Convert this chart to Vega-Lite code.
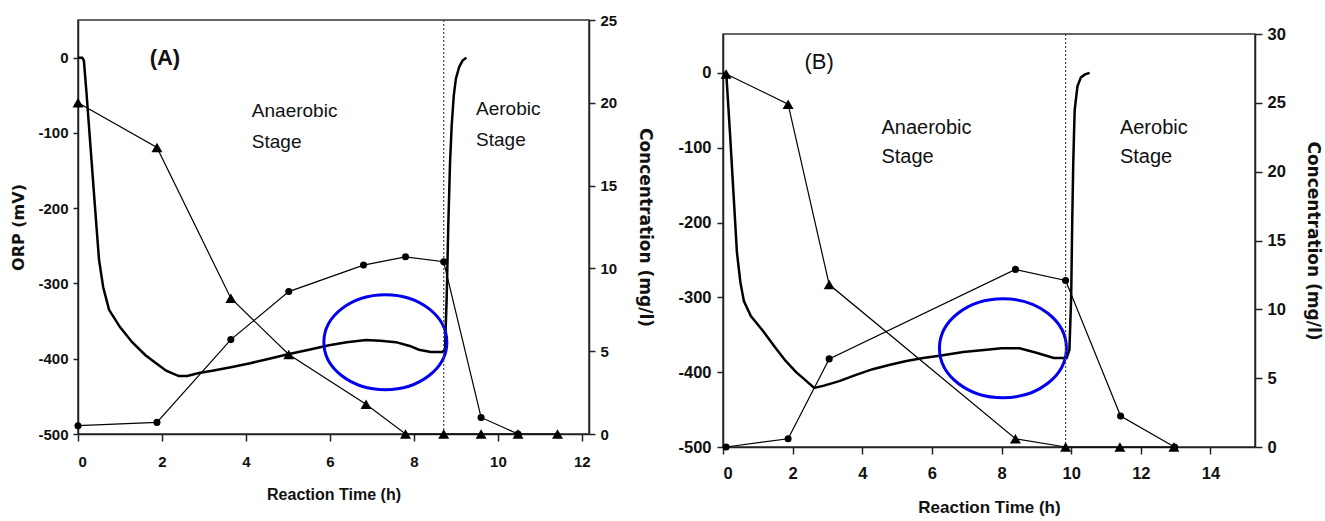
{
  "$schema": "https://vega.github.io/schema/vega-lite/v6.json",
  "padding": {"left": 10, "top": 12, "right": 0, "bottom": 0},
  "spacing": 22,
  "config": {
    "font": "Liberation Sans",
    "view": {"stroke": "#333", "strokeWidth": 1.5},
    "axis": {
      "grid": false,
      "labelFont": "Liberation Sans", "labelFontWeight": "bold", "labelFontSize": 15, "labelColor": "#111",
      "titleFont": "Liberation Sans", "titleFontWeight": "bold", "titleFontSize": 16, "titleColor": "#111",
      "domainColor": "#222", "domainWidth": 1.5, "tickColor": "#222", "tickWidth": 1.5
    }
  },
  "datasets": {
    "orpA": [
      {"t": 0, "orp": 0}, {"t": 0.1, "orp": 0}, {"t": 0.14, "orp": -4}, {"t": 0.2, "orp": -45}, {"t": 0.3, "orp": -120},
      {"t": 0.4, "orp": -195}, {"t": 0.5, "orp": -268}, {"t": 0.6, "orp": -305}, {"t": 0.74, "orp": -335}, {"t": 1.0, "orp": -358},
      {"t": 1.29, "orp": -378}, {"t": 1.6, "orp": -395}, {"t": 1.86, "orp": -406}, {"t": 2.1, "orp": -416}, {"t": 2.4, "orp": -423},
      {"t": 2.6, "orp": -423}, {"t": 2.88, "orp": -419}, {"t": 3.2, "orp": -416}, {"t": 3.67, "orp": -411}, {"t": 4.1, "orp": -406},
      {"t": 4.48, "orp": -401}, {"t": 5.0, "orp": -394}, {"t": 5.5, "orp": -388}, {"t": 5.98, "orp": -382}, {"t": 6.4, "orp": -378},
      {"t": 6.86, "orp": -375}, {"t": 7.2, "orp": -376}, {"t": 7.57, "orp": -378}, {"t": 7.9, "orp": -383}, {"t": 8.12, "orp": -388},
      {"t": 8.4, "orp": -391}, {"t": 8.67, "orp": -391}, {"t": 8.74, "orp": -388}, {"t": 8.78, "orp": -320}, {"t": 8.82, "orp": -220},
      {"t": 8.86, "orp": -140}, {"t": 8.9, "orp": -90}, {"t": 8.95, "orp": -50}, {"t": 9.0, "orp": -28}, {"t": 9.08, "orp": -12},
      {"t": 9.16, "orp": -4}, {"t": 9.25, "orp": 0}
    ],
    "concA": [
      {"t": 0, "c": 20.0, "s": "tri"}, {"t": 1.88, "c": 17.3, "s": "tri"}, {"t": 3.64, "c": 8.2, "s": "tri"}, {"t": 5.02, "c": 4.8, "s": "tri"},
      {"t": 6.86, "c": 1.8, "s": "tri"}, {"t": 7.8, "c": 0, "s": "tri"}, {"t": 8.71, "c": 0, "s": "tri"}, {"t": 9.6, "c": 0, "s": "tri"},
      {"t": 10.48, "c": 0, "s": "tri"}, {"t": 11.42, "c": 0, "s": "tri"},
      {"t": 0, "c": 0.5, "s": "circ"}, {"t": 1.88, "c": 0.7, "s": "circ"}, {"t": 3.64, "c": 5.7, "s": "circ"}, {"t": 5.02, "c": 8.6, "s": "circ"},
      {"t": 6.8, "c": 10.2, "s": "circ"}, {"t": 7.8, "c": 10.7, "s": "circ"}, {"t": 8.71, "c": 10.4, "s": "circ"}, {"t": 9.6, "c": 1.0, "s": "circ"},
      {"t": 10.48, "c": 0, "s": "circ"}
    ],
    "ruleA": [{"t": 8.71}],
    "ellA": [{"t": 7.32, "orp": -378}],
    "lblA": [{"t": 2.07, "orp": 0, "label": "(A)"}],
    "stA": [
      {"t": 4.14, "orp": -78.5, "label": "Anaerobic"}, {"t": 4.14, "orp": -120, "label": "Stage"},
      {"t": 9.48, "orp": -76, "label": "Aerobic"}, {"t": 9.48, "orp": -118, "label": "Stage"}
    ],
    "orpB": [
      {"t": 0, "orp": 0}, {"t": 0.06, "orp": 0}, {"t": 0.1, "orp": -5}, {"t": 0.2, "orp": -80}, {"t": 0.3, "orp": -160},
      {"t": 0.4, "orp": -240}, {"t": 0.5, "orp": -280}, {"t": 0.6, "orp": -305}, {"t": 0.8, "orp": -325}, {"t": 1.15, "orp": -345},
      {"t": 1.5, "orp": -367}, {"t": 1.8, "orp": -385}, {"t": 2.1, "orp": -400}, {"t": 2.3, "orp": -408}, {"t": 2.62, "orp": -421},
      {"t": 2.9, "orp": -418}, {"t": 3.34, "orp": -412}, {"t": 3.8, "orp": -404}, {"t": 4.3, "orp": -396}, {"t": 4.8, "orp": -390},
      {"t": 5.27, "orp": -385}, {"t": 5.75, "orp": -381}, {"t": 6.22, "orp": -378}, {"t": 6.9, "orp": -373}, {"t": 7.57, "orp": -370},
      {"t": 8.0, "orp": -368}, {"t": 8.52, "orp": -368}, {"t": 9.0, "orp": -374}, {"t": 9.5, "orp": -381}, {"t": 9.87, "orp": -381},
      {"t": 9.95, "orp": -370}, {"t": 10.0, "orp": -300}, {"t": 10.03, "orp": -200}, {"t": 10.06, "orp": -120}, {"t": 10.1, "orp": -50},
      {"t": 10.18, "orp": -18}, {"t": 10.28, "orp": -6}, {"t": 10.4, "orp": -2}, {"t": 10.53, "orp": 0}
    ],
    "concB": [
      {"t": 0.09, "c": 27.1, "s": "tri"}, {"t": 1.87, "c": 24.9, "s": "tri"}, {"t": 3.05, "c": 11.8, "s": "tri"}, {"t": 8.4, "c": 0.6, "s": "tri"},
      {"t": 9.84, "c": 0, "s": "tri"}, {"t": 11.4, "c": 0, "s": "tri"}, {"t": 12.95, "c": 0, "s": "tri"},
      {"t": 0.09, "c": 0, "s": "circ"}, {"t": 1.87, "c": 0.6, "s": "circ"}, {"t": 3.05, "c": 6.4, "s": "circ"}, {"t": 8.4, "c": 12.9, "s": "circ"},
      {"t": 9.84, "c": 12.1, "s": "circ"}, {"t": 11.42, "c": 2.25, "s": "circ"}, {"t": 12.97, "c": 0, "s": "circ"}
    ],
    "ruleB": [{"t": 9.84}],
    "ellB": [{"t": 8.04, "orp": -368}],
    "lblB": [{"t": 2.76, "orp": 15, "label": "(B)"}],
    "stB": [
      {"t": 4.55, "orp": -81.5, "label": "Anaerobic"}, {"t": 4.55, "orp": -120, "label": "Stage"},
      {"t": 11.4, "orp": -81.5, "label": "Aerobic"}, {"t": 11.4, "orp": -120, "label": "Stage"}
    ],
    "spacer": [{"t": 0}]
  },
  "hconcat": [
    {
      "width": 511,
      "height": 414,
      "encoding": {
        "x": {"field": "t", "type": "quantitative",
          "scale": {"domain": [0, 12.17], "nice": false, "zero": false},
          "axis": {"title": "Reaction Time (h)", "values": [0, 2, 4, 6, 8, 10, 12], "tickSize": 7, "labelPadding": 13, "titlePadding": 17}}
      },
      "layer": [
        {
          "encoding": {
            "y": {"field": "orp", "type": "quantitative", "scale": {"domain": [-500, 50], "nice": false, "zero": false},
              "axis": {"title": "ORP (mV)", "titleFont": "DejaVu Sans", "titleFontSize": 16, "values": [-500, -400, -300, -200, -100, 0], "labelExpr": "'' + datum.value", "tickSize": 5, "labelPadding": 5, "titlePadding": 11}}
          },
          "layer": [
            {"data": {"name": "orpA"}, "mark": {"type": "line", "color": "black", "strokeWidth": 2.5}},
            {"data": {"name": "ellA"}, "mark": {"type": "point", "shape": "M-1,0A1,0.772,0,1,0,1,0A1,0.772,0,1,0,-1,0Z", "size": 15129, "filled": false, "stroke": "#0000ee", "strokeWidth": 3, "opacity": 1}},
            {"data": {"name": "lblA"}, "mark": {"type": "text", "fontSize": 22, "fontWeight": "bold", "align": "center", "baseline": "middle", "color": "#111"},
              "encoding": {"text": {"field": "label"}}},
            {"data": {"name": "stA"}, "mark": {"type": "text", "fontSize": 19, "align": "left", "baseline": "alphabetic", "color": "#111"},
              "encoding": {"text": {"field": "label"}}}
          ]
        },
        {"data": {"name": "ruleA"}, "mark": {"type": "rule", "color": "#444", "strokeDash": [2, 2], "strokeWidth": 1.2}, "encoding": {}},
        {
          "data": {"name": "concA"},
          "encoding": {
            "y": {"field": "c", "type": "quantitative", "scale": {"domain": [0, 25], "nice": false, "zero": false},
              "axis": {"orient": "right", "title": "Concentration (mg/l)", "titleFont": "DejaVu Sans", "titleFontSize": 17, "titleFontWeight": "bold", "values": [0, 5, 10, 15, 20, 25], "tickSize": 6, "labelPadding": 5, "titlePadding": 19}}
          },
          "layer": [
            {"mark": {"type": "line", "color": "black", "strokeWidth": 1.2}, "encoding": {"detail": {"field": "s"}}},
            {"mark": {"type": "point", "filled": true, "color": "black", "opacity": 1},
              "encoding": {
                "shape": {"field": "s", "type": "nominal", "scale": {"domain": ["tri", "circ"], "range": ["triangle-up", "circle"]}, "legend": null},
                "size": {"field": "s", "type": "ordinal", "scale": {"domain": ["tri", "circ"], "range": [121, 50]}, "legend": null}}}
          ]
        }
      ],
      "resolve": {"scale": {"y": "independent"}}
    },
    {
      "spacing": 0,
      "vconcat": [
        {
          "width": 532, "height": 5,
          "view": {"stroke": null},
          "data": {"name": "spacer"},
          "mark": {"type": "point", "opacity": 0, "size": 0},
          "encoding": {"x": {"field": "t", "type": "quantitative", "axis": null}}
        },
        {
          "width": 532,
          "height": 413,
          "encoding": {
            "x": {"field": "t", "type": "quantitative",
              "scale": {"domain": [0, 15.28], "nice": false, "zero": false},
              "axis": {"title": "Reaction Time (h)", "titleFontSize": 17, "labelFontSize": 16.5, "values": [0, 2, 4, 6, 8, 10, 12, 14], "tickSize": 7, "labelPadding": 11, "titlePadding": 18}}
          },
          "layer": [
            {
              "encoding": {
                "y": {"field": "orp", "type": "quantitative", "scale": {"domain": [-500, 52], "nice": false, "zero": false},
                  "axis": {"title": null, "labelFontSize": 16.5, "values": [-500, -400, -300, -200, -100, 0], "labelExpr": "'' + datum.value", "tickSize": 6, "labelPadding": 6}}
              },
              "layer": [
                {"data": {"name": "orpB"}, "mark": {"type": "line", "color": "black", "strokeWidth": 2.5}},
                {"data": {"name": "ellB"}, "mark": {"type": "point", "shape": "M-1,0A1,0.78,0,1,0,1,0A1,0.78,0,1,0,-1,0Z", "size": 16129, "filled": false, "stroke": "#0000ee", "strokeWidth": 3, "opacity": 1}},
                {"data": {"name": "lblB"}, "mark": {"type": "text", "fontSize": 22, "align": "center", "baseline": "middle", "color": "#111"},
                  "encoding": {"text": {"field": "label"}}},
                {"data": {"name": "stB"}, "mark": {"type": "text", "fontSize": 20, "align": "left", "baseline": "alphabetic", "color": "#111"},
                  "encoding": {"text": {"field": "label"}}}
              ]
            },
            {"data": {"name": "ruleB"}, "mark": {"type": "rule", "color": "#444", "strokeDash": [2, 2], "strokeWidth": 1.2}, "encoding": {}},
            {
              "data": {"name": "concB"},
              "encoding": {
                "y": {"field": "c", "type": "quantitative", "scale": {"domain": [0, 30], "nice": false, "zero": false},
                  "axis": {"orient": "right", "title": "Concentration (mg/l)", "titleFont": "DejaVu Sans", "titleFontSize": 17, "titleFontWeight": "bold", "labelFontSize": 16.5, "values": [0, 5, 10, 15, 20, 25, 30], "tickSize": 7, "labelPadding": 5, "titlePadding": 18}}
              },
              "layer": [
                {"mark": {"type": "line", "color": "black", "strokeWidth": 1.2}, "encoding": {"detail": {"field": "s"}}},
                {"mark": {"type": "point", "filled": true, "color": "black", "opacity": 1},
                  "encoding": {
                    "shape": {"field": "s", "type": "nominal", "scale": {"domain": ["tri", "circ"], "range": ["triangle-up", "circle"]}, "legend": null},
                    "size": {"field": "s", "type": "ordinal", "scale": {"domain": ["tri", "circ"], "range": [121, 110]}, "legend": null}}}
              ]
            }
          ],
          "resolve": {"scale": {"y": "independent"}}
        }
      ]
    }
  ]
}
